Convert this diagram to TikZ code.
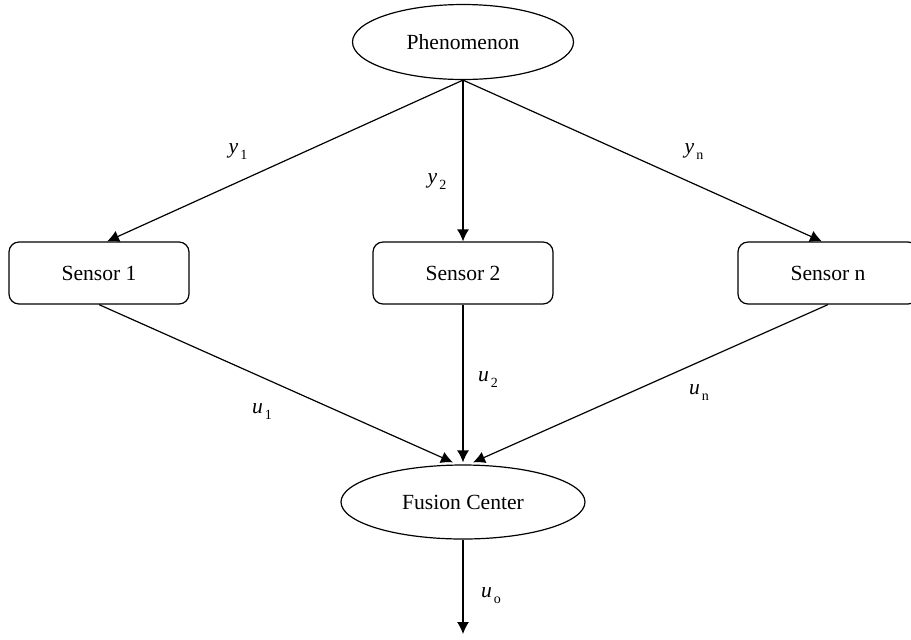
\documentclass[tikz,border=0pt]{standalone}
\usepackage{fontspec}
\setmainfont{Liberation Serif}
\usetikzlibrary{shapes.geometric,arrows.meta,positioning}

% label with a small lowered index
\newcommand{\sublab}[2]{\textit{#1}\kern1pt\raisebox{-0.6ex}{\fontsize{7}{8}\selectfont #2}}

\begin{document}
\begin{tikzpicture}[
        x=0.5pt, y=-0.5pt,
        % define styles
        blob/.style={
            draw,
            ellipse,
            inner sep=0pt,
            line width=0.6pt
        },
        sensor/.style={
            draw,
            rounded corners=5pt,
            minimum width=90pt,
            minimum height=31pt,
            line width=0.6pt
        },
        lab/.style={
            inner sep=0pt
        },
        link/.style={
            -{Latex[length=6pt,width=6pt]},
            line width=0.6pt
        },
        font=\fontsize{10.8}{13}\selectfont
    ]
    \useasboundingbox (0,0) rectangle (911,639);

    % source and fusion ellipses
    \node[blob, minimum width=110.5pt, minimum height=37.5pt] (phen) at (463,42) {Phenomenon};
    \node[blob, minimum width=122pt, minimum height=37pt] (fus) at (463,502) {Fusion Center};

    % row of sensors
    \node[sensor] (s1) at (99,273) {Sensor 1};
    \node[sensor] (s2) at (463,273) {Sensor 2};
    \node[sensor] (sn) at (828,273) {Sensor n};

    %lines from the phenomenon to each sensor
    \foreach \s/\dx in {s1/4pt, s2/0pt, sn/-3pt}
    \draw[link] (phen.south) -- ([xshift=\dx]\s.north);

    %lines from each sensor to the fusion center
    \foreach \s/\dx in {s1/-5pt, s2/0pt, sn/5pt}
    \draw[link] (\s.south) -- ([xshift=\dx, yshift=1pt]fus.north);

    % output line
    \coordinate (out) at (463,634);
    \draw[link] (fus.south) -- (out);

    % labels of the observations and decisions
    \node[lab] (y1) at (238,152) {\sublab{y}{1}};
    \node[lab] (y2) at (437,182) {\sublab{y}{2}};
    \node[lab] (yn) at (694,152) {\sublab{y}{n}};
    \node[lab] (u1) at (262,412) {\sublab{u}{1}};
    \node[lab] (u2) at (488,380) {\sublab{u}{2}};
    \node[lab] (un) at (699,393) {\sublab{u}{n}};
    \node[lab] (uo) at (491,596) {\sublab{u}{o}};
\end{tikzpicture}
\end{document}
